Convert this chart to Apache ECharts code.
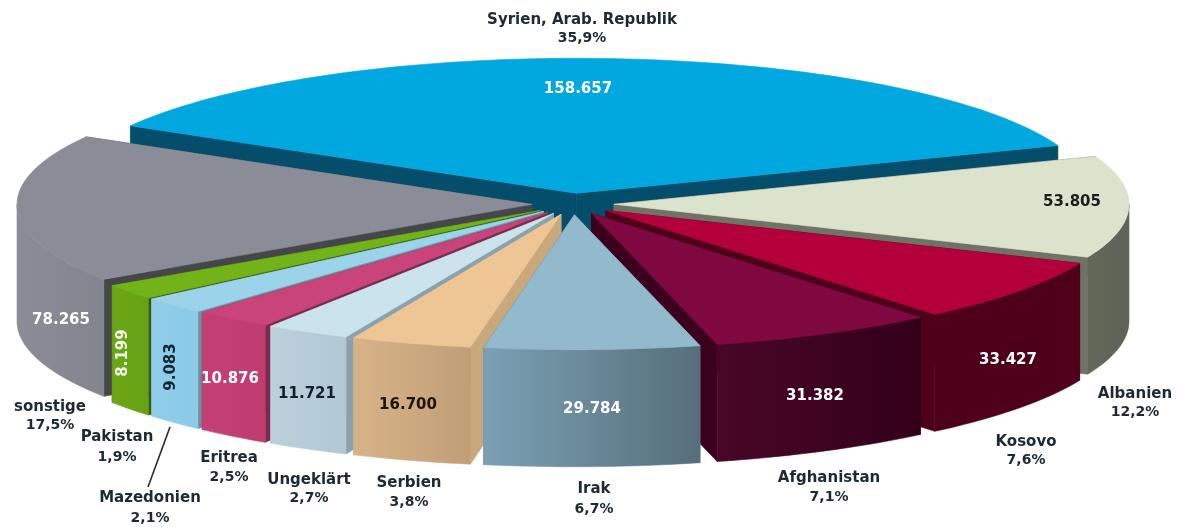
<!DOCTYPE html>
<html lang="de">
<head>
<meta charset="utf-8">
<title>Herkunftsländer</title>
<style>html,body{margin:0;padding:0;background:#fff}#chart{width:1181px;height:527px}</style>
<script src="https://cdn.jsdelivr.net/npm/echarts@6/dist/echarts.min.js"></script>
</head>
<body>
<div id="chart"></div>
<script>
// Slices, clockwise from the large back slice
var categories = ['Syrien, Arab. Republik', 'Albanien', 'Kosovo', 'Afghanistan', 'Irak', 'Serbien',
  'Ungeklärt', 'Eritrea', 'Mazedonien', 'Pakistan', 'sonstige'];
var values = [158657, 53805, 33427, 31382, 29784, 16700, 11721, 10876, 9083, 8199, 78265];
var valueLabels = ['158.657', '53.805', '33.427', '31.382', '29.784', '16.700', '11.721', '10.876', '9.083', '8.199', '78.265'];
var percentLabels = ['35,9%', '12,2%', '7,6%', '7,1%', '6,7%', '3,8%', '2,7%', '2,5%', '2,1%', '1,9%', '17,5%'];

// Colours: top surface, wall (left to right), radial cut face
var topColors = ['#00a8df', '#dce3cc', '#b3003c', '#7e083f', '#93b9cc', '#eec594', '#cbe3ec', '#c8447a', '#9ad3ea', '#72b31a', '#8a8d97'];
var wallColors = [['#044d6b', '#044d6b'], ['#646859', '#5e6257'], ['#4e001a', '#4e001a'], ['#4a0626', '#32001a'],
  ['#7ba1b4', '#566e7a'], ['#d9b388', '#c09e78'], ['#bdd0dc', '#b0c7d4'], ['#c53f73', '#bf3c70'],
  ['#8fcde9', '#8bcae6'], ['#6aa616', '#66a214'], ['#8a8d97', '#82858e']];
var faceColors = ['#044d6b', '#6f7264', '#4e001a', '#3a001c', '#5d7684', '#c9a87c', '#8ba1ac', '#7a2a4a', '#6c8fa0', '#3a5a10', '#44464a'];

// Pie projection
var CENTER = [573, 204], RX = 515, RY = 135, EXPLODE = 41, DEPTH = 117, START_DEG = -60;

// Text placement: [slice value label x, y, rotation, colour]
var valueLayout = [[578, 89, 0, '#fff'], [1072, 202, 0, '#1c1c18'], [1008, 360, 0, '#fff'], [815, 396, 0, '#fff'],
  [592, 409, 0, '#fff'], [408, 405, 0, '#1c1208'], [307, 394, 0, '#10202c'], [230, 379, 0, '#fff'],
  [171, 367, 90, '#0c2430'], [123, 353, 90, '#f4f8e8'], [61, 320, 0, '#fff']];
// Text placement: [name x, name y, percent y]
var nameLayout = [[582, 20, 38], [1135, 394, 412], [1026, 442, 460], [829, 478, 497], [594, 489, 509], [409, 483, 502],
  [309, 480, 498], [229, 458, 477], [150, 498, 518], [117, 437, 457], [50, 407, 425]];

var total = values.reduce(function (a, b) { return a + b; }, 0);
var slices = [];
var cursor = START_DEG;
values.forEach(function (v, i) {
  var sweep = v / total * 360;
  slices.push({ index: i, from: cursor, to: cursor + sweep, mid: cursor + sweep / 2 });
  cursor += sweep;
});

function rad(d) { return d * Math.PI / 180; }
function apexOf(s) {
  return [CENTER[0] + EXPLODE * Math.sin(rad(s.mid)), CENTER[1] - EXPLODE * RY / RX * Math.cos(rad(s.mid))];
}
function rim(apex, deg) {
  return [apex[0] + RX * Math.sin(rad(deg)), apex[1] - RY * Math.cos(rad(deg))];
}
function down(p) { return [p[0], p[1] + DEPTH]; }
function arc(apex, a, b) {
  var n = Math.max(2, Math.ceil(Math.abs(b - a) / 1.5)), pts = [];
  for (var k = 0; k <= n; k++) pts.push(rim(apex, a + (b - a) * k / n));
  return pts;
}

// Farther slices are painted first so nearer ones cover their walls
var paintOrder = slices.slice().sort(function (p, q) { return Math.cos(rad(q.mid)) - Math.cos(rad(p.mid)); });

function poly(points, fill, z2) {
  return {
    type: 'polygon', z2: z2,
    shape: { points: points },
    style: { fill: fill, stroke: fill, lineWidth: 0.6 }
  };
}

function renderSlice(params, api) {
  var s = paintOrder[api.value(0)];
  var i = s.index, apex = apexOf(s), base = params.dataIndex * 4, children = [];
  [s.from, s.to].forEach(function (deg) {
    var r = rim(apex, deg);
    children.push(poly([apex, r, down(r), down(apex)], faceColors[i], base));
  });
  // Only the part of the rim turned towards the viewer shows a wall
  var a = Math.max(s.from, 90), b = Math.min(s.to, 270);
  if (b > a) {
    var upper = arc(apex, a, b);
    children.push(poly(upper.concat(upper.map(down).reverse()),
      new echarts.graphic.LinearGradient(0, 0, 1, 0, [
        { offset: 0, color: wallColors[i][0] },
        { offset: 1, color: wallColors[i][1] }
      ]), base + 1));
  }
  children.push(poly([apex].concat(arc(apex, s.from, s.to)), topColors[i], base + 2));
  return { type: 'group', children: children };
}

var FONT = '"DejaVu Sans", sans-serif';
var graphics = [];
categories.forEach(function (name, i) {
  var v = valueLayout[i], n = nameLayout[i];
  graphics.push({
    type: 'text', x: v[0], y: v[1], rotation: v[2] * Math.PI / 180, z: 10,
    style: { text: valueLabels[i], fill: v[3], font: 'bold 15px ' + FONT, align: 'center', verticalAlign: 'middle' }
  });
  graphics.push({
    type: 'text', x: n[0], y: n[1], z: 10,
    style: { text: name, fill: '#1b2a33', font: 'bold 15px ' + FONT, align: 'center', verticalAlign: 'middle' }
  });
  graphics.push({
    type: 'text', x: n[0], y: n[2], z: 10,
    style: { text: percentLabels[i], fill: '#1b2a33', font: 'bold 14px ' + FONT, align: 'center', verticalAlign: 'middle' }
  });
});
// Leader line for the narrow Mazedonien slice
graphics.push({
  type: 'line', z: 10,
  shape: { x1: 170, y1: 427, x2: 148, y2: 487 },
  style: { stroke: '#2a2a2a', lineWidth: 1.6 }
});

var chart = echarts.init(document.getElementById('chart'), null, { renderer: 'canvas' });
chart.setOption({
  animation: false,
  backgroundColor: '#ffffff',
  series: [{
    type: 'custom',
    coordinateSystem: 'none',
    silent: true,
    clip: false,
    data: paintOrder.map(function (s, k) { return [k, values[s.index]]; }),
    renderItem: renderSlice
  }],
  graphic: graphics
});
</script>
</body>
</html>
